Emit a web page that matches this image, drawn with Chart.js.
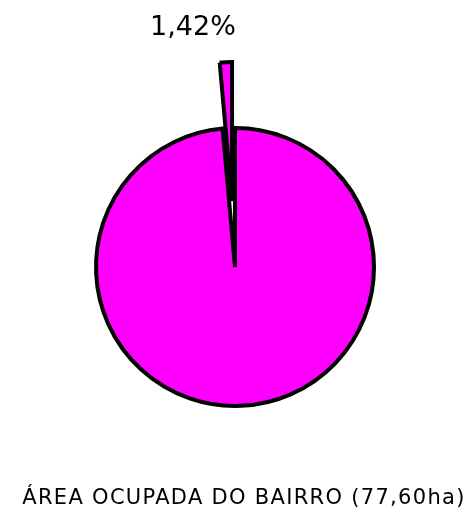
<!DOCTYPE html>
<html lang="pt">
<head>
    <meta charset="UTF-8">
    <title>Área ocupada do bairro</title>
    <script src="https://cdn.jsdelivr.net/npm/chart.js"></script>
    <style>
        body {
            margin: 0;
            padding: 0;
            background: #fff;
        }
        .chart-container {
            width: 468px;
            height: 515px;
            position: relative;
        }
    </style>
</head>
<body>

<div class="chart-container">
    <canvas id="pieChart"></canvas>
</div>

<script>
    const labels = ["Restante do bairro", "Área ocupada"];
    const values = [98.58, 1.42];
    const valueLabels = ["", "1,42%"];
    const caption = "ÁREA OCUPADA DO BAIRRO (77,60ha)";

    // distancia (px) que cada fatia sai do centro
    const explode = [0, 66];

    const fontFamily = "'DejaVu Sans', sans-serif";

    // o offset do Chart.js estreita a fatia, entao a fatia e so deslocada no desenho
    const explodePlugin = {
        id: "explodePlugin",
        afterDatasetsUpdate(chart) {
            chart.getDatasetMeta(0).data.forEach((arc, i) => {
                const d = explode[i] || 0;
                if (!d) return;
                const baseDraw = Object.getPrototypeOf(arc).draw;
                arc.draw = function (ctx, area) {
                    const mid = (this.startAngle + this.endAngle) / 2;
                    ctx.save();
                    ctx.translate(Math.cos(mid) * d, Math.sin(mid) * d);
                    baseDraw.call(this, ctx, area);
                    ctx.restore();
                };
            });
        }
    };

    // rotulo da fatia destacada + legenda de baixo
    const textPlugin = {
        id: "textPlugin",
        afterDatasetsDraw(chart) {
            const ctx = chart.ctx;
            const meta = chart.getDatasetMeta(0);
            ctx.save();
            ctx.fillStyle = "#000";
            ctx.textBaseline = "alphabetic";
            meta.data.forEach((arc, i) => {
                if (!valueLabels[i]) return;
                const mid = (arc.startAngle + arc.endAngle) / 2;
                const dist = arc.outerRadius + (explode[i] || 0);
                const tx = arc.x + Math.cos(mid) * dist;
                const ty = arc.y + Math.sin(mid) * dist;
                ctx.font = "27px " + fontFamily;
                ctx.textAlign = "right";
                ctx.fillText(valueLabels[i], tx + 10, ty - 27);
            });
            ctx.font = "21px " + fontFamily;
            ctx.letterSpacing = "1.3px";
            ctx.textAlign = "center";
            ctx.fillText(caption, chart.width / 2 + 10, 504);
            ctx.restore();
        }
    };

    const ctx = document.getElementById("pieChart").getContext("2d");
    new Chart(ctx, {
        type: "pie",
        data: {
            labels: labels,
            datasets: [{
                data: values,
                backgroundColor: "#ff00ff",
                borderColor: "#000",
                borderWidth: 4,
                borderJoinStyle: "miter"
            }]
        },
        options: {
            responsive: true,
            maintainAspectRatio: false,
            animation: false,
            radius: 139,
            layout: { padding: { left: 2, right: 0, top: 19, bottom: 0 } },
            plugins: {
                legend: { display: false },
                tooltip: { enabled: false }
            }
        },
        plugins: [explodePlugin, textPlugin]
    });
</script>

</body>
</html>
